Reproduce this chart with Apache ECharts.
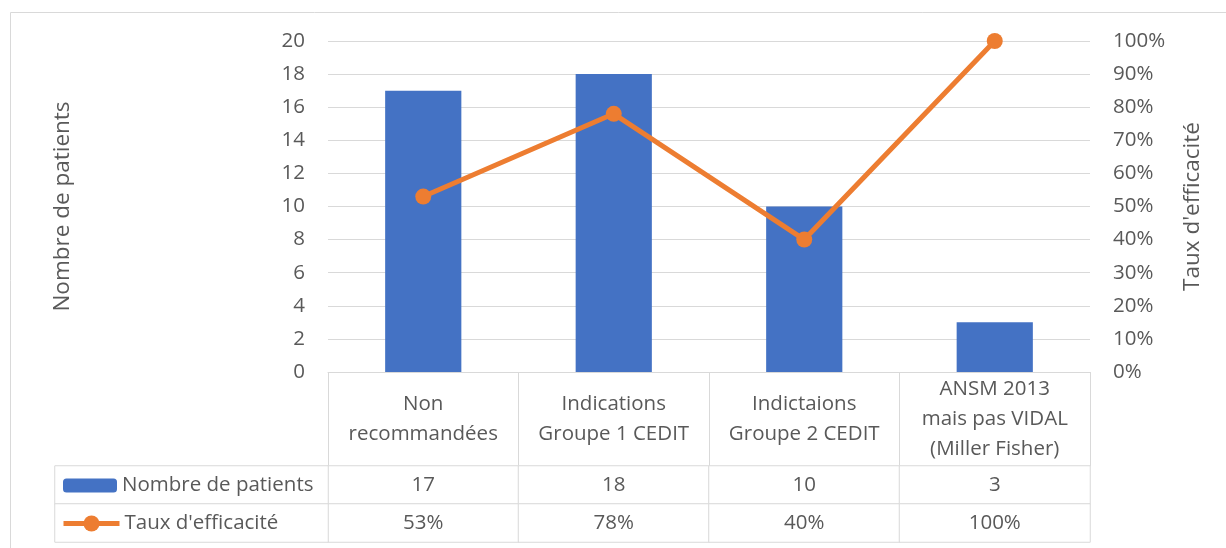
<!DOCTYPE html>
<html>
<head>
<meta charset="utf-8">
<script src="https://cdn.jsdelivr.net/npm/echarts@6/dist/echarts.min.js"></script>
<style>
  html, body { margin: 0; padding: 0; background: #fff; }
  #chart { width: 1226px; height: 548px; }
</style>
</head>
<body>
<div id="chart"></div>
<script>
// Categories of indication
const categories = [
  'Non\nrecommandées',
  'Indications\nGroupe 1 CEDIT',
  'Indictaions\nGroupe 2 CEDIT',
  'ANSM 2013\nmais pas VIDAL\n(Miller Fisher)'
];
// Number of patients per category
const patients = [17, 18, 10, 3];
// Efficacy rate per category (%)
const rates = [53, 78, 40, 100];
// Series names
const seriesNames = ['Nombre de patients', "Taux d'efficacité"];

const BLUE = '#4472C4';
const ORANGE = '#ED7D31';
const TEXT = '#595959';
const RULE = '#d9d9d9';
const FONT = '"Open Sans", "Noto Sans", sans-serif';
const FS = 20.5;
const LINE_W = 5;

// Data-table cells: row 0 = patients, row 1 = rates
const tableCells = patients.map((v, i) => [i, 0, v])
  .concat(rates.map((v, i) => [i, 1, v]));
const legendCells = [[0, 0, 0], [0, 1, 0]];

const legendText = { color: TEXT, fontSize: FS, lineHeight: 20, fontFamily: FONT };

const chart = echarts.init(document.getElementById('chart'), null, { renderer: 'canvas' });

chart.setOption({
  animation: false,
  textStyle: { fontFamily: FONT },
  graphic: [{
    type: 'rect',
    shape: { x: 10.5, y: 12.5, width: 1400, height: 700 },
    style: { fill: 'none', stroke: RULE, lineWidth: 1 },
    silent: true,
    z: -10
  }],
  legend: [
    {
      // key for the bar series, first row of the table
      left: 63,
      top: 475,
      padding: 0,
      itemWidth: 54,
      itemHeight: 14,
      selectedMode: false,
      data: [seriesNames[0]],
      textStyle: legendText
    },
    {
      // key for the line series, second row of the table
      left: 61,
      top: 513,
      padding: 0,
      itemWidth: 56,
      itemHeight: 20,
      selectedMode: false,
      data: [seriesNames[1]],
      lineStyle: { width: LINE_W },
      textStyle: legendText
    }
  ],
  grid: [
    { left: 328, right: 136, top: 41, height: 331 },
    { left: 328, right: 136, top: 466, height: 76 },
    { left: 55, width: 273, top: 466, height: 76 }
  ],
  xAxis: [
    {
      type: 'category',
      gridIndex: 0,
      data: categories,
      axisLine: { lineStyle: { color: RULE, width: 1 } },
      axisTick: { show: true, length: 94, lineStyle: { color: RULE, width: 1 } },
      axisLabel: {
        color: TEXT, fontSize: FS, lineHeight: 30, margin: 47,
        verticalAlign: 'middle', align: 'center', fontFamily: FONT, interval: 0
      }
    },
    { type: 'category', gridIndex: 1, data: categories, show: false },
    { type: 'category', gridIndex: 2, data: [''], show: false }
  ],
  yAxis: [
    {
      type: 'value',
      gridIndex: 0,
      min: 0, max: 20, interval: 2,
      name: seriesNames[0],
      nameLocation: 'middle',
      nameRotate: 90,
      nameGap: 254,
      nameTextStyle: { color: TEXT, fontSize: 22.5, fontFamily: FONT },
      axisLine: { show: false },
      axisTick: { show: false },
      axisLabel: { color: TEXT, fontSize: FS, margin: 23, fontFamily: FONT },
      splitLine: { lineStyle: { color: RULE, width: 1 } }
    },
    {
      type: 'value',
      gridIndex: 0,
      position: 'right',
      min: 0, max: 100, interval: 10,
      name: seriesNames[1],
      nameLocation: 'middle',
      nameRotate: 90,
      nameGap: 91,
      nameTextStyle: { color: TEXT, fontSize: 22.5, fontFamily: FONT },
      axisLine: { show: false },
      axisTick: { show: false },
      axisLabel: { color: TEXT, fontSize: FS, margin: 23, fontFamily: FONT, formatter: '{value}%' },
      splitLine: { show: false }
    },
    { type: 'category', gridIndex: 1, data: ['0', '1'], inverse: true, show: false },
    { type: 'category', gridIndex: 2, data: ['0', '1'], inverse: true, show: false }
  ],
  series: [
    {
      name: seriesNames[0],
      type: 'bar',
      xAxisIndex: 0,
      yAxisIndex: 0,
      data: patients,
      barWidth: '40%',
      itemStyle: { color: BLUE },
      z: 2
    },
    {
      name: seriesNames[1],
      type: 'line',
      xAxisIndex: 0,
      yAxisIndex: 1,
      data: rates,
      symbol: 'circle',
      symbolSize: 16,
      lineStyle: { color: ORANGE, width: LINE_W },
      itemStyle: { color: ORANGE },
      z: 3
    },
    {
      // value cells of the data table
      type: 'heatmap',
      xAxisIndex: 1,
      yAxisIndex: 2,
      data: tableCells,
      itemStyle: { color: '#ffffff', borderColor: RULE, borderWidth: 1 },
      label: {
        show: true,
        color: TEXT,
        fontSize: FS,
        fontFamily: FONT,
        formatter: p => p.data[1] === 0 ? String(p.data[2]) : p.data[2] + '%'
      },
      emphasis: { disabled: true },
      silent: true
    },
    {
      // legend-key column of the data table
      type: 'heatmap',
      xAxisIndex: 2,
      yAxisIndex: 3,
      data: legendCells,
      itemStyle: { color: '#ffffff', borderColor: RULE, borderWidth: 1 },
      label: { show: false },
      emphasis: { disabled: true },
      silent: true
    }
  ]
});
</script>
</body>
</html>
